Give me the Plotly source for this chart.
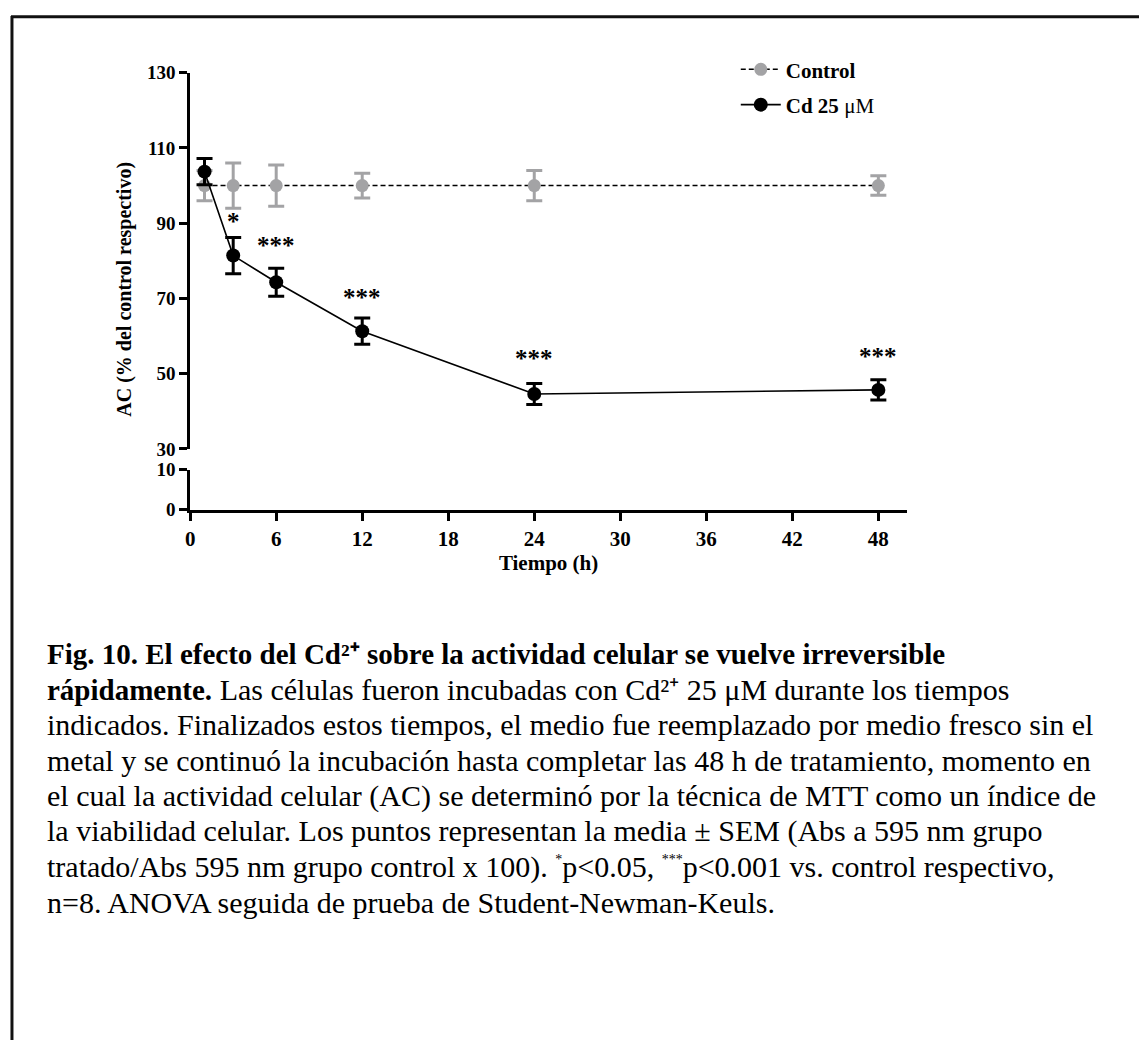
import plotly.graph_objects as go

W, H = 1139, 1040

# ---- data ----
time_h = [1, 3, 6, 12, 24, 48]
control_mean = [100, 100, 100, 100, 100, 100]
control_sem = [4.0, 6.0, 5.5, 3.3, 4.0, 2.6]
cd_mean = [103.7, 81.4, 74.3, 61.3, 44.6, 45.7]
cd_sem = [3.5, 4.8, 3.7, 3.5, 2.8, 2.7]
sig_labels = ["", "*", "***", "***", "***", "***"]
sig_y = [None, 89.9, 83.5, 69.8, 53.4, 54.0]
x_ticks = [0, 6, 12, 18, 24, 30, 36, 42, 48]
y_ticks_upper = [30, 50, 70, 90, 110, 130]
y_ticks_lower = [0, 10]

B = '<b><span style="font-size:29px">{}</span></b>'
STAR = '<sup><span style="font-size:14px">{}</span></sup>'
caption_lines = [
    B.format("Fig. 10. El efecto del Cd²⁺ sobre la actividad celular se vuelve irreversible"),
    B.format("rápidamente.") + " Las células fueron incubadas con Cd²⁺ 25 μM durante los tiempos",
    "indicados. Finalizados estos tiempos, el medio fue reemplazado por medio fresco sin el",
    "metal y se continuó la incubación hasta completar las 48 h de tratamiento, momento en",
    "el cual la actividad celular (AC) se determinó por la técnica de MTT como un índice de",
    "la viabilidad celular. Los puntos representan la media ± SEM (Abs a 595 nm grupo",
    "tratado/Abs 595 nm grupo control x 100). " + STAR.format("*") + "p&lt;0.05, "
    + STAR.format("***") + "p&lt;0.001 vs. control respectivo,",
    "n=8. ANOVA seguida de prueba de Student-Newman-Keuls.",
]
caption_y_px = [657, 693, 729, 766, 802, 838, 875, 911]

FONT = "Liberation Serif"
GRAY = "#a3a3a5"
CHART_FS = 21

def px_x(p):
    return p / W

def px_y(p):
    return 1 - p / H

fig = go.Figure()

fig.add_trace(go.Scatter(
    x=time_h, y=control_mean, name="<b>Control</b>",
    mode="lines+markers", legendgroup="ctrl",
    line=dict(color="black", width=1.5, dash="5px,3px"),
    marker=dict(color=GRAY, size=13),
    error_y=dict(type="data", array=control_sem, color=GRAY, thickness=3, width=8),
    xaxis="x", yaxis="y",
))
fig.add_trace(go.Scatter(
    x=time_h, y=cd_mean, name="<b>Cd 25</b> μM",
    mode="lines+markers", legendgroup="cd",
    line=dict(color="black", width=1.6),
    marker=dict(color="black", size=14),
    error_y=dict(type="data", array=cd_sem, color="black", thickness=3, width=8),
    xaxis="x", yaxis="y",
))
# empty trace so the lower (broken) axis segment exists
fig.add_trace(go.Scatter(x=[], y=[], xaxis="x", yaxis="y2", showlegend=False))

for xv, lab, yv in zip(time_h, sig_labels, sig_y):
    if lab:
        fig.add_annotation(x=xv, y=yv, xref="x", yref="y", text=f"<b>{lab}</b>",
                           showarrow=False, xanchor="center", yanchor="middle", yshift=2,
                           font=dict(family=FONT, size=25, color="black"))

axis_common = dict(showline=True, linecolor="black", linewidth=3, ticks="outside",
                   ticklen=8, tickwidth=3, tickcolor="black", showgrid=False,
                   zeroline=False)
xfont = dict(family=FONT, size=CHART_FS, color="black", weight="bold")
yfont = dict(family=FONT, size=19, color="black", weight="bold")

fig.update_layout(
    width=W, height=H,
    margin=dict(l=0, r=0, t=0, b=0),
    paper_bgcolor="white", plot_bgcolor="white",
    xaxis=dict(domain=[px_x(186), px_x(906)], range=[0, 50], anchor="y2",
               tickvals=x_ticks, tickfont=xfont,
               title=dict(text="<b>Tiempo (h)</b>", standoff=6,
                          font=dict(family=FONT, size=CHART_FS, color="black")),
               **axis_common),
    yaxis=dict(domain=[px_y(448), px_y(64)], range=[30, 130], anchor="x",
               tickvals=y_ticks_upper, tickfont=yfont, **axis_common),
    yaxis2=dict(domain=[px_y(510), px_y(469)], range=[0, 10], anchor="x",
                tickvals=y_ticks_lower, tickfont=yfont, **axis_common),
    legend=dict(x=px_x(734), y=px_y(40), xanchor="left", yanchor="top",
                font=dict(family=FONT, size=CHART_FS, color="black"),
                itemwidth=40, traceorder="grouped",
                bgcolor="rgba(0,0,0,0)", tracegroupgap=5),
    showlegend=True,
)

# rotated y-axis title spanning the broken axis
fig.add_annotation(x=px_x(120), y=px_y(285), xref="paper", yref="paper",
                   xanchor="center", yanchor="middle",
                   text="<b>AC (% del control respectivo)</b>", textangle=-90,
                   showarrow=False, font=dict(family=FONT, size=20, color="black"))

# caption
for txt, yp in zip(caption_lines, caption_y_px):
    fig.add_annotation(x=px_x(40), y=px_y(yp), xref="paper", yref="paper",
                       text=txt, showarrow=False, xanchor="left", yanchor="middle",
                       align="left", font=dict(family=FONT, size=30, color="black"))

# outer frame (top and left edges)
fig.add_shape(type="line", xref="paper", yref="paper",
              x0=px_x(6), x1=1.02, y0=px_y(7), y1=px_y(7),
              line=dict(color="#111111", width=3))
fig.add_shape(type="line", xref="paper", yref="paper",
              x0=px_x(7), x1=px_x(7), y0=-0.05, y1=px_y(6),
              line=dict(color="#111111", width=3))

fig.write_html("out.html")
